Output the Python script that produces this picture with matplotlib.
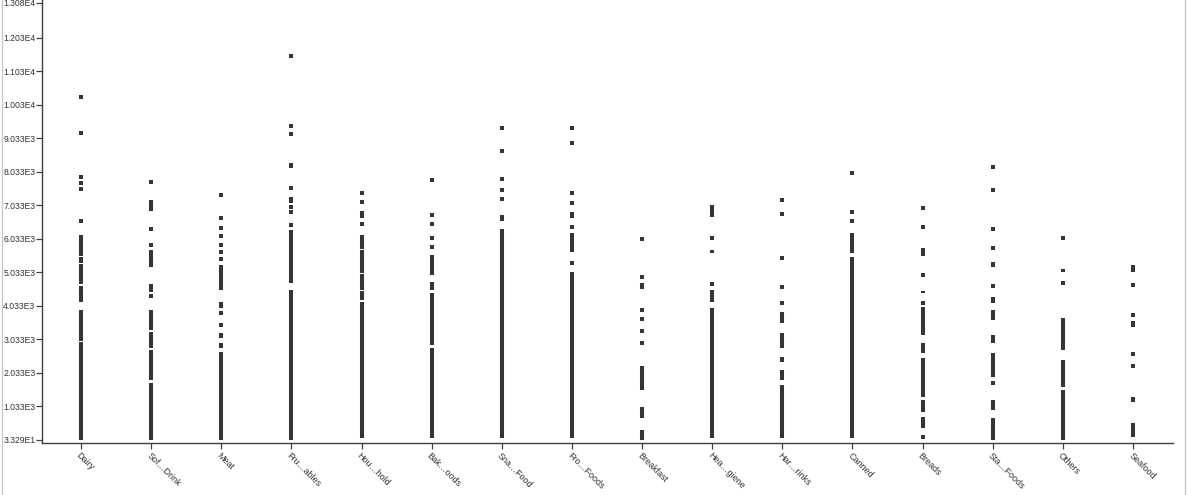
import matplotlib
matplotlib.use("Agg")
import matplotlib.pyplot as plt
from matplotlib.lines import Line2D

# categories as shown on the axis (names are truncated in the original view)
categories = ["Dairy", "Sof…Drink", "Meat", "Fru…ables", "Hou…hold", "Bak…oods",
              "Sna…Food", "Fro…Foods", "Breakfast", "Hea…giene", "Har…rinks",
              "Canned", "Breads", "Sta…Foods", "Others", "Seafood"]

# isolated sales values per category
points = [
    [10281, 9188, 7893, 7713, 7516, 6570],
    [7743, 6340, 5854, 4630, 4510, 4331],
    [7346, 6669, 6370, 6131, 5854, 5636, 5427, 3815, 3465],
    [11504, 9406, 9167, 7546, 6979, 6830, 6442],
    [7397, 7146, 6481],
    [7794, 6749, 6472, 6072, 5803],
    [9337, 8660, 7815, 7227],
    [9337, 8889, 7415, 7117, 6400, 5307],
    [6042, 4908, 3913, 3645, 2920],
    [6072, 4690],
    [7197, 6779, 5475, 4591, 4114],
    [8012, 6830, 6570],
    [6949, 6400, 4958, 4132, 131],
    [8191, 7496, 6340, 5755, 4630, 1725],
    [6053, 4729],
    [4660, 3764, 2600, 2251],
]

# ranges where points overlap into a solid strip (low, high)
spans = [
    [(33, 2950), (2985, 3913), (4161, 4640), (4680, 5290), (5330, 5490), (5520, 6152)],
    [(33, 1743), (1824, 2720), (2770, 3266), (3317, 3913), (5206, 5705), (5803, 5854), (6878, 7197)],
    [(33, 2670), (2770, 2920), (3069, 3218), (3964, 4161), (4510, 5257)],
    [(33, 4510), (4710, 6302), (7098, 7296), (8143, 8293)],
    [(84, 4161), (4212, 4470), (4510, 4990), (5030, 5690), (5720, 6152), (6651, 6878)],
    [(84, 2770), (2869, 4412), (4510, 4759), (4958, 5555)],
    [(84, 6322), (6579, 6749), (7427, 7546)],
    [(84, 5057), (5654, 6203), (6651, 6830)],
    [(33, 331), (681, 1009), (1525, 2242), (3218, 3337), (4531, 4729)],
    [(84, 3964), (4161, 4510), (5606, 5705), (6700, 7048)],
    [(84, 1675), (1824, 2122), (2370, 2502), (2770, 3237), (3516, 3863)],
    [(84, 5505), (5606, 6203)],
    [(382, 728), (876, 1227), (1325, 2472), (2621, 2920), (3167, 4012), (4412, 4481), (5525, 5755)],
    [(33, 681), (928, 1227), (1923, 2621), (2920, 3167), (3615, 3913), (4114, 4311), (5206, 5355)],
    [(33, 1525), (1624, 2421), (2720, 3666), (5057, 5128)],
    [(131, 529), (1176, 1325), (3416, 3594), (5057, 5257)],
]

ytick_values = [33.29, 1033, 2033, 3033, 4033, 5033, 6033, 7033, 8033, 9033,
                10033, 11033, 12033, 13080]
ytick_labels = ["3.329E1", "1.033E3", "2.033E3", "3.033E3", "4.033E3", "5.033E3",
                "6.033E3", "7.033E3", "8.033E3", "9.033E3", "1.003E4", "1.103E4",
                "1.203E4", "1.308E4"]

mark = "#353535"
axis_col = "#404040"

fig = plt.figure(figsize=(11.88, 4.95), dpi=100)
ax = fig.add_axes([42 / 1188, 52 / 495, (1173 - 42) / 1188, 443 / 495])

for i, cat in enumerate(categories):
    for lo, hi in spans[i]:
        ax.vlines(i, lo, hi, color=mark, linewidth=2.9)
    ax.plot([i] * len(points[i]), points[i], linestyle="none", marker="s",
            markersize=2.8, color=mark, markeredgewidth=0)

ax.set_xlim(-0.556, 15.57)
ax.set_ylim(-57, 13167)

ax.set_xticks(range(len(categories)))
ax.set_xticklabels(categories, rotation=-45, ha="left", va="top",
                   rotation_mode="anchor", fontsize=6.5, family="Liberation Sans",
                   color="#333333")
ax.set_yticks(ytick_values)
ax.set_yticklabels(ytick_labels, fontsize=6.2, family="Liberation Sans", color="#333333")
ax.tick_params(axis="both", length=4.3, width=0.9, color=axis_col, pad=1.5)
ax.tick_params(axis="y", pad=0.6)

for s in ["top", "right"]:
    ax.spines[s].set_visible(False)
for s in ["left", "bottom"]:
    ax.spines[s].set_color(axis_col)
    ax.spines[s].set_linewidth(1.0)

# light panel border at the image sides
fig.add_artist(Line2D([2 / 1188, 2 / 1188], [0, 1], color="#c8c8c8", linewidth=1))
fig.add_artist(Line2D([1185 / 1188, 1185 / 1188], [0, 1], color="#c8c8c8", linewidth=1))

plt.savefig("out.png", dpi=100)
